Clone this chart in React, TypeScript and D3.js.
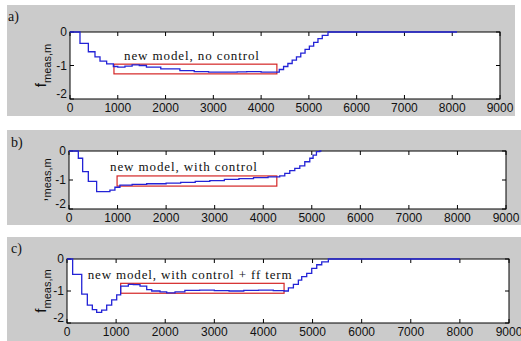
import React from 'react';
import * as d3 from 'd3';

// x ticks and y ticks shared by the three panels
const X_TICKS = [0, 1000, 2000, 3000, 4000, 5000, 6000, 7000, 8000, 9000];
const Y_TICKS = [0, -1, -2];

// a) new model, no control  (step breakpoints)
const A_X = [0, 209, 384, 523, 628, 767, 907, 1000, 1150, 1300, 1450, 1600, 1900, 2300, 2600, 2900, 3500, 3700, 4000, 4200,
  4380, 4470, 4560, 4650, 4740, 4830, 4920, 5010, 5100, 5190, 5280, 5400, 8100];
const A_Y = [0, -0.34, -0.59, -0.74, -0.87, -0.95, -1.03, -1.05, -1.02, -0.98, -1.0, -1.05, -1.1, -1.15, -1.18, -1.2, -1.19, -1.18, -1.2, -1.2,
  -1.12, -1.03, -0.94, -0.84, -0.74, -0.63, -0.52, -0.42, -0.31, -0.2, -0.1, 0, 0];

// b) new model, with control
const B_X = [0, 192, 281, 398, 569, 843, 946, 1049, 1300, 1600, 2000, 2300, 2600, 2900, 3200, 3500, 3800, 4100, 4340,
  4444, 4547, 4650, 4753, 4856, 4959, 5027, 5096, 5165, 5200];
const B_Y = [0, -0.25, -0.71, -1.05, -1.4, -1.35, -1.25, -1.18, -1.15, -1.13, -1.11, -1.08, -1.05, -1.02, -0.98, -0.95, -0.92, -0.89, -0.86,
  -0.77, -0.68, -0.6, -0.51, -0.37, -0.25, -0.14, -0.02, 0, 0];

// c) new model, with control + ff term
const C_X = [0, 115, 300, 414, 516, 604, 706, 808, 910, 1012, 1093, 1249, 1351, 1487, 1623, 1725, 1894, 2030, 2200, 2400, 2700, 3000, 3300, 3600, 3900, 4200,
  4420, 4508, 4610, 4711, 4779, 4881, 4983, 5085, 5187, 5322, 8000];
const C_Y = [0, -0.48, -1.1, -1.44, -1.58, -1.67, -1.6, -1.44, -1.28, -1.12, -0.85, -0.79, -0.8, -0.85, -0.96, -1.0, -1.03, -1.06, -1.03, -0.98, -0.97, -0.99, -1.0, -0.98, -0.97, -0.99,
  -1.0, -0.9, -0.79, -0.66, -0.55, -0.45, -0.29, -0.18, -0.09, 0, 0];

// highlighted windows [x0, x1, yTop, yBottom]
const BOXES = [
  [920, 4330, -0.96, -1.25],
  [990, 4280, -0.86, -1.21],
  [1093, 4420, -0.76, -1.07],
];
const NOTES = ['new model, no control', 'new model, with control', 'new model, with control + ff term'];
const NOTE_POS = [[1130, -0.85], [844, -0.69], [421, -0.63]];
const PANEL_TAGS = ['a)', 'b)', 'c)'];

// screen layout of each subplot
const LAYOUT = [
  { bg: [7, 5, 508, 111], l: 70, r: 500, t: 32, b: 99, tag: [8, 21], noteW: 135, yl: 'f' },
  { bg: [7, 130, 514, 95], l: 69, r: 506, t: 151, b: 209, tag: [11, 147], noteW: 147, yl: ',' },
  { bg: [7, 237, 514, 104], l: 67, r: 509, t: 259, b: 323, tag: [11, 253], noteW: 204, yl: 'f' },
];

const SERIES = [[A_X, A_Y], [B_X, B_Y], [C_X, C_Y]];

function Panel({ i }: { i: number }) {
  const L = LAYOUT[i];
  const [xs, ys] = SERIES[i];
  const sx = d3.scaleLinear().domain([0, 9000]).range([L.l, L.r]);
  const sy = d3.scaleLinear().domain([-2, 0]).range([L.b, L.t]);
  const pts = xs.map((x, k) => [x, ys[k]] as [number, number]);
  const line = d3.line<[number, number]>()
    .x(d => sx(d[0]))
    .y(d => sy(d[1]))
    .curve(d3.curveStepAfter);
  const box = BOXES[i];
  const tk = 4;
  const midY = (L.t + L.b) / 2;
  const axFont = '"Liberation Sans", Arial, sans-serif';

  return (
    <g>
      <rect x={L.bg[0]} y={L.bg[1]} width={L.bg[2]} height={L.bg[3]} fill="#cbcbcb" />
      <text x={L.tag[0]} y={L.tag[1]} fontFamily='"Liberation Serif", serif' fontSize={14} fill="#111">{PANEL_TAGS[i]}</text>
      <rect x={L.l} y={L.t} width={L.r - L.l} height={L.b - L.t} fill="#fff" />
      <clipPath id={`clip${i}`}>
        <rect x={L.l} y={L.t - 1} width={L.r - L.l} height={L.b - L.t + 2} />
      </clipPath>

      {/* ticks */}
      {X_TICKS.map(v => (
        <g key={'x' + v}>
          <line x1={sx(v)} x2={sx(v)} y1={L.b} y2={L.b - tk} stroke="#000" />
          <line x1={sx(v)} x2={sx(v)} y1={L.t} y2={L.t + tk} stroke="#000" />
          <text x={sx(v)} y={L.b + 13} textAnchor="middle" fontFamily={axFont} fontSize={12} fill="#111">{v}</text>
        </g>
      ))}
      {Y_TICKS.map(v => (
        <g key={'y' + v}>
          <line x1={L.l} x2={L.l + tk} y1={sy(v)} y2={sy(v)} stroke="#000" />
          <line x1={L.r} x2={L.r - tk} y1={sy(v)} y2={sy(v)} stroke="#000" />
          <text x={L.l - 3} y={Math.min(sy(v) + 4, L.b - 1)} textAnchor="end" fontFamily={axFont} fontSize={12} fill="#111">{v}</text>
        </g>
      ))}

      <rect x={L.l} y={L.t} width={L.r - L.l} height={L.b - L.t} fill="none" stroke="#000" strokeWidth={1} />

      <rect x={sx(box[0])} y={sy(box[2])} width={sx(box[1]) - sx(box[0])} height={sy(box[3]) - sy(box[2])}
        fill="none" stroke="#d42525" strokeWidth={1.2} />
      <path d={line(pts) || ''} fill="none" stroke="#2323d6" strokeWidth={1.3} clipPath={`url(#clip${i})`} />

      <text x={sx(NOTE_POS[i][0])} y={sy(NOTE_POS[i][1])} fontFamily='"Liberation Serif", serif' fontSize={13}
        textLength={L.noteW} lengthAdjust="spacing" fill="#111">{NOTES[i]}</text>

      <text transform={`translate(46,${midY}) rotate(-90)`} textAnchor="middle" fontFamily={axFont} fill="#111">
        <tspan fontSize={15}>{L.yl}</tspan>
        <tspan fontSize={11} dy={5}>meas,m</tspan>
      </text>
    </g>
  );
}

export default function App() {
  return (
    <svg width={521} height={341} style={{ position: 'absolute', left: 0, top: 0, background: '#fff' }}>
      {[0, 1, 2].map(i => <Panel key={i} i={i} />)}
    </svg>
  );
}
